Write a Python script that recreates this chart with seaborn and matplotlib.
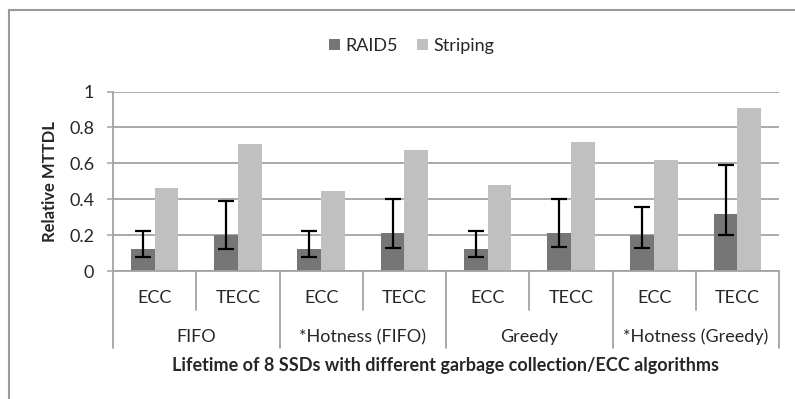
import matplotlib
matplotlib.use("Agg")
import matplotlib.pyplot as plt
from matplotlib.lines import Line2D
from matplotlib.patches import Patch
import matplotlib.transforms as mtransforms
import numpy as np
import pandas as pd
import seaborn as sns

# ---- data -------------------------------------------------------------
groups = ["FIFO", "*Hotness (FIFO)", "Greedy", "*Hotness (Greedy)"]
ecc_modes = ["ECC", "TECC"]
series_names = ["RAID5", "Striping"]
raid5 = [0.12, 0.20, 0.12, 0.21, 0.12, 0.21, 0.20, 0.32]
striping = [0.465, 0.71, 0.445, 0.676, 0.477, 0.72, 0.62, 0.91]
raid5_low = [0.078, 0.125, 0.078, 0.127, 0.078, 0.134, 0.128, 0.201]
raid5_high = [0.225, 0.39, 0.225, 0.40, 0.225, 0.40, 0.356, 0.59]
y_ticks = [0, 0.2, 0.4, 0.6, 0.8, 1]
y_tick_labels = ["0", "0.2", "0.4", "0.6", "0.8", "1"]

configs = [f"{g} {e}" for g in groups for e in ecc_modes]
df = pd.DataFrame({
    "config": configs * 2,
    "series": [series_names[0]] * len(configs) + [series_names[1]] * len(configs),
    "value": raid5 + striping,
})

# ---- style ------------------------------------------------------------
sns.set_style("white")
plt.rcParams["font.family"] = ["Lato", "DejaVu Sans"]
FS = 13
GRID = "#a3a3a3"
colors = {"RAID5": "#767676", "Striping": "#c0c0c0"}

W, H = 795, 399
fig = plt.figure(figsize=(W / 100, H / 100), dpi=100)
x0, x1, y_top, y_base = 113, 779, 91.5, 271
ax = fig.add_axes([x0 / W, (H - y_base) / H, (x1 - x0) / W, (y_base - y_top) / H])

bar_width = 0.57
sns.barplot(data=df, x="config", y="value", hue="series", order=configs,
            hue_order=series_names, palette=colors, width=bar_width, gap=0,
            linewidth=0, errorbar=None, legend=False, ax=ax)

# asymmetric error bars on the RAID5 bars
xpos = np.arange(len(configs)) - bar_width / 4
r = np.array(raid5)
yerr = np.vstack([r - np.array(raid5_low), np.array(raid5_high) - r])
ax.errorbar(xpos, r, yerr=yerr, fmt="none", ecolor="black", elinewidth=1.6,
            capsize=6, capthick=1.6, zorder=5)

ax.set_xlim(-0.5, len(configs) - 0.5)
ax.set_ylim(0, 1)
ax.set_yticks(y_ticks)
ax.set_yticklabels(y_tick_labels, fontsize=FS)
ax.set_xticks([])
ax.set_xlabel("")
ax.set_ylabel("Relative MTTDL", fontsize=12, fontweight="bold", labelpad=8)
ax.tick_params(axis="y", length=4.5, width=1.1, color=GRID, pad=9, left=True)
ax.yaxis.grid(True, color=GRID, linewidth=1.3)
ax.set_axisbelow(True)
for side in ["top", "right"]:
    ax.spines[side].set_visible(False)
for side in ["left", "bottom"]:
    ax.spines[side].set_color(GRID)
    ax.spines[side].set_linewidth(1.3)

# ---- hierarchical category axis ----------------------------------------
span = y_base - y_top
def ax_y(px):
    return (y_base - px) / span

trans = mtransforms.blended_transform_factory(ax.transData, ax.transAxes)
for i in range(len(configs) + 1):
    xb = i - 0.5
    bottom = 348 if i % 2 == 0 else 310
    ax.add_line(Line2D([xb, xb], [0, ax_y(bottom)], transform=trans,
                       color=GRID, linewidth=1.3, clip_on=False))
for i, c in enumerate(configs):
    ax.text(i, ax_y(298), ecc_modes[i % 2], transform=trans, ha="center",
            va="center", fontsize=FS)
for j, g in enumerate(groups):
    ax.text(2 * j + 0.5, ax_y(337), g, transform=trans, ha="center",
            va="center", fontsize=FS)
ax.text(0.5, ax_y(366), "Lifetime of 8 SSDs with different garbage collection/ECC algorithms",
        transform=ax.transAxes, ha="center", va="center", fontsize=FS,
        fontweight="bold")

# ---- legend -----------------------------------------------------------
handles = [Patch(facecolor=colors[s], edgecolor="none", label=s) for s in series_names]
fig.legend(handles=handles, loc="center", bbox_to_anchor=(411.5 / W, 1 - 46 / H),
           ncol=2, frameon=False, fontsize=FS, handlelength=0.62,
           handleheight=0.62, handletextpad=0.25, columnspacing=1.1)

# ---- chart frame --------------------------------------------------------
fig.add_artist(Line2D([9 / W, 1], [1 - 10 / H, 1 - 10 / H], color="#9a9a9a",
                      linewidth=1.5, transform=fig.transFigure))
fig.add_artist(Line2D([9 / W, 9 / W], [0, 1 - 10 / H], color="#9a9a9a",
                      linewidth=1.5, transform=fig.transFigure))

fig.savefig("out.png", dpi=100)
